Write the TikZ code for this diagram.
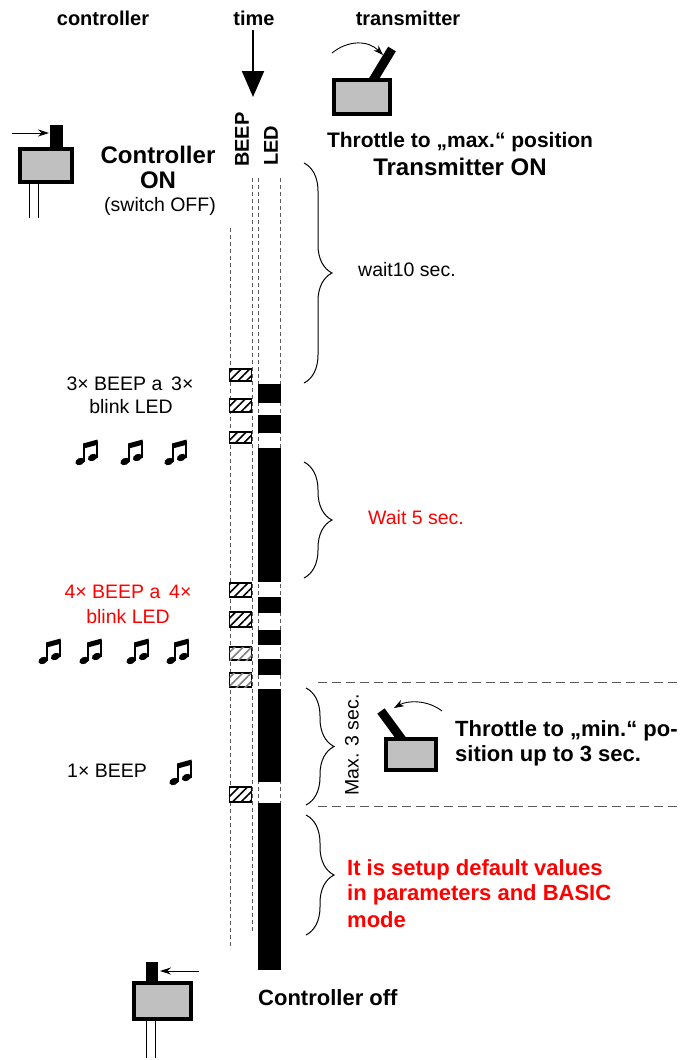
\documentclass[tikz,border=0pt]{standalone}
\usepackage{fontspec}
\setmainfont{Liberation Sans}
\usetikzlibrary{arrows.meta,decorations.pathreplacing,patterns.meta}
\definecolor{boxgray}{RGB}{192,192,192}
\definecolor{myred}{RGB}{255,0,0}
\definecolor{dashgray}{RGB}{90,90,90}
\begin{document}
\begin{tikzpicture}[x=1pt,y=-1pt,
  hdr/.style={font=\bfseries\fontsize{20}{22}\selectfont, inner sep=0pt},
  big/.style={font=\bfseries\fontsize{24}{26}\selectfont, inner sep=0pt},
  bmid/.style={font=\bfseries\fontsize{22}{24}\selectfont, inner sep=0pt},
  reg/.style={font=\fontsize{19.5}{24}\selectfont, inner sep=0pt},
  guide/.style={dash pattern=on 4pt off 3pt, line width=0.9pt, draw=dashgray},
  sep/.style={dash pattern=on 9pt off 5pt, line width=1pt, draw=dashgray},
  beepbox/.style={draw=black, line width=1.3pt, fill=white,
     postaction={pattern={Lines[angle=45,distance=6pt,line width=1.6pt]}}},
  beepgray/.style={draw=black, line width=1.3pt, fill=white,
     postaction={pattern={Lines[angle=45,distance=6pt,line width=1.6pt]}, pattern color=gray}},
  brc/.style={decorate, decoration={brace, amplitude=28pt}, line width=1pt},
  devbox/.style={fill=boxgray, draw=black, line width=3.5pt},
  thin/.style={line width=0.9pt},
  mnote/.pic={
    \fill[rotate around={25:(-7,9.5)}] (-7,9.5) ellipse (4.8 and 3.4);
    \fill[rotate around={25:(5.5,5.5)}] (5.5,5.5) ellipse (4.8 and 3.4);
    \fill (-4,9.5) rectangle (-2.2,-8);
    \fill (8.9,5.5) rectangle (10.7,-11);
    \fill (-4,-8.5) -- (10.7,-12.5) -- (10.7,-7.3) -- (-4,-3.3) -- cycle;
  },
]
\useasboundingbox (0,0) rectangle (685,1060);

% headers
\node[hdr] (hc) at (103,18) {controller};
\node[hdr] (ht) at (254,18) {time};
\node[hdr] (hx) at (408,18) {transmitter};
\coordinate (tarr) at (253,97);
\draw[line width=2pt, -{Triangle[width=22pt,length=26pt]}] (253,30) -- (tarr);

% column labels
\node[hdr, rotate=90, anchor=west] (lbeep) at (242,167) {BEEP};
\node[hdr, rotate=90, anchor=west] (lled) at (271,166) {LED};

% guide lines
\draw[guide] (230,228) -- (230,948);
\draw[guide] (252,178) -- (252,932);
\draw[guide] (258,178) -- (258,970);
\draw[guide] (280,178) -- (280,970);

% LED black segments
\foreach \a/\b in {384/403, 415/433, 448/582, 597/613, 630/645, 659/675, 689/782, 803/970}
  \fill[black] (257.5,\a) rectangle (280.5,\b);

% BEEP boxes
\foreach \a/\b in {369/381, 399/412, 432/443, 583/597, 612/627, 787/802}
  \draw[beepbox] (229.5,\a) rectangle (251.5,\b);
\foreach \a/\b in {647/660, 673/687}
  \draw[beepgray] (229.5,\a) rectangle (251.5,\b);

% braces
\draw[brc] (304,163) -- (304,383);
\draw[brc] (304,462) -- (304,578);
\draw[brc] (306,688) -- (306,805);
\draw[brc] (306,815) -- (306,935);

% separators
\draw[sep] (318,682) -- (680,682);
\draw[sep] (318,806) -- (680,806);

% controller icon top-left
\fill[black] (50,125) rectangle (63,147);
\draw[devbox] (20,149) rectangle (72,182);
\draw[thin] (29,184) -- (29,218);
\draw[thin] (38,184) -- (38,218);
\coordinate (ca) at (12,133);
\draw[thin, -{Stealth[length=11pt,width=7pt]}] (ca) -- (49,133);

% controller text
\node[big] (con1) at (158,155) {Controller};
\node[big] (con2) at (158,180) {ON};
\node[reg] (con3) at (160,206) {(switch OFF)};

% transmitter icon
\draw[line width=9pt] (372,82) -- (392,49);
\draw[devbox] (334,80) rectangle (390,114);
\draw[thin, -{Stealth[length=10pt,width=7pt]}] (332,53) .. controls (348,40) and (368,40) .. (383,55);

\node[bmid, font=\bfseries\fontsize{21}{24}\selectfont] (tx1) at (460,142) {Throttle to „max.“ position};
\node[big] (tx2) at (460,167) {Transmitter ON};

\node[reg, anchor=west] (w10) at (358,270) {wait10 sec.};

% 3x beep
\node[reg] (b3a) at (130,384) {3× BEEP a\, 3×};
\node[reg] (b3b) at (131,407) {blink LED};
\pic at (87,452) {mnote};
\pic at (132,452) {mnote};
\pic at (176,452) {mnote};

\node[reg, text=myred, anchor=west] (w5) at (368,518) {Wait 5 sec.};

% 4x beep
\node[reg, text=myred] (b4a) at (128,592) {4× BEEP a\, 4×};
\node[reg, text=myred] (b4b) at (128,617) {blink LED};
\pic at (50,651) {mnote};
\pic at (91,651) {mnote};
\pic at (138,651) {mnote};
\pic at (178,651) {mnote};

% max 3 sec
\node[reg, rotate=90] (m3) at (352,745) {Max. 3 sec.};
\draw[line width=9pt] (403,741) -- (381,711);
\draw[devbox] (386,739) rectangle (436,770);
\draw[thin, -{Stealth[length=10pt,width=7pt]}] (442,711) .. controls (428,700) and (408,700) .. (394,708);
\node[bmid, anchor=west] (tm1) at (455,731) {Throttle to „min.“ po-};
\node[bmid, anchor=west] (tm2) at (455,756) {sition up to 3 sec.};

% 1x beep
\node[reg] (b1) at (107,771) {1× BEEP};
\pic at (181,772) {mnote};

% default values
\node[bmid, anchor=west, text=myred] (d1) at (347,870) {It is setup default values};
\node[bmid, anchor=west, text=myred] (d2) at (347,895) {in parameters and BASIC};
\node[bmid, anchor=west, text=myred] (d3) at (347,920) {mode};

% bottom controller
\fill[black] (146,962) rectangle (158,983);
\draw[devbox] (134,983) rectangle (191,1019);
\draw[thin] (146,1021) -- (146,1058);
\draw[thin] (155,1021) -- (155,1058);
\coordinate (cb) at (199,971);
\draw[thin, -{Stealth[length=11pt,width=7pt]}] (cb) -- (160,971);
\node[bmid, anchor=west] (coff) at (258,998) {Controller off};
\end{tikzpicture}
\end{document}
